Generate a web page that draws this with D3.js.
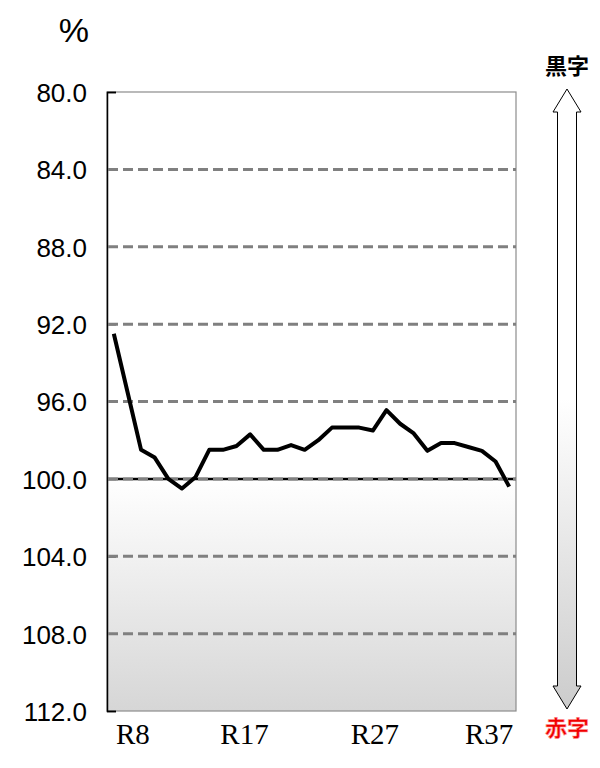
<!DOCTYPE html>
<html>
<head>
<meta charset="utf-8">
<script src="https://cdn.jsdelivr.net/npm/d3@7"></script>
<style>
  body { margin: 0; background: #fff; }
  svg { display: block; }
</style>
</head>
<body>
<div id="chart"></div>
<script>
// categories (Reiwa years) and the balance ratio, %
var categories = ["R8","R9","R10","R11","R12","R13","R14","R15","R16","R17",
                  "R18","R19","R20","R21","R22","R23","R24","R25","R26","R27",
                  "R28","R29","R30","R31","R32","R33","R34","R35","R36","R37"];
var ratio = [92.5, 95.5, 98.5, 98.9, 100.0, 100.5, 99.9, 98.5, 98.5, 98.3,
             97.7, 98.5, 98.5, 98.25, 98.5, 98.0, 97.35, 97.35, 97.35, 97.5,
             96.45, 97.15, 97.65, 98.55, 98.15, 98.15, 98.35, 98.55, 99.1, 100.4];
var yTicks = [80, 84, 88, 92, 96, 100, 104, 108, 112];
var xLabels = ["R8", "R17", "R27", "R37"];
// labels were placed by hand in the original, nudge them a bit
var xLabelNudge = [19, 8, 2, -20];

var W = 600, H = 768;
var plot = { left: 107, right: 516, top: 92, bottom: 711 };

var svg = d3.select("#chart").append("svg")
  .attr("width", W)
  .attr("height", H);

var defs = svg.append("defs");
var bg = defs.append("linearGradient").attr("id", "bg")
  .attr("x1", 0).attr("y1", 0).attr("x2", 0).attr("y2", 1);
bg.append("stop").attr("offset", "0%").attr("stop-color", "#ffffff");
bg.append("stop").attr("offset", "100%").attr("stop-color", "#d6d6d6");

var arrowGrad = defs.append("linearGradient").attr("id", "arrowGrad")
  .attr("x1", 0).attr("y1", 0).attr("x2", 0).attr("y2", 1);
arrowGrad.append("stop").attr("offset", "0%").attr("stop-color", "#ffffff");
arrowGrad.append("stop").attr("offset", "50%").attr("stop-color", "#ffffff");
arrowGrad.append("stop").attr("offset", "100%").attr("stop-color", "#cccccc");

var x = d3.scaleBand()
  .domain(categories)
  .range([plot.left, plot.right]);
var y = d3.scaleLinear()
  .domain([80, 112])
  .range([plot.top, plot.bottom]);

function cx(c) { return x(c) + x.bandwidth() / 2; }

// plot background: white above 100, fading to grey below
svg.append("rect")
  .attr("x", plot.left).attr("y", plot.top)
  .attr("width", plot.right - plot.left)
  .attr("height", plot.bottom - plot.top)
  .attr("fill", "#fff");
svg.append("rect")
  .attr("x", plot.left).attr("y", y(100))
  .attr("width", plot.right - plot.left)
  .attr("height", y(112) - y(100))
  .attr("fill", "url(#bg)");

// frame
svg.append("rect")
  .attr("x", plot.left).attr("y", plot.top)
  .attr("width", plot.right - plot.left)
  .attr("height", plot.bottom - plot.top)
  .attr("fill", "none")
  .attr("stroke", "#8c8c8c")
  .attr("stroke-width", 1.2);

// horizontal axis crosses at 100
svg.append("line")
  .attr("x1", plot.left).attr("x2", plot.right)
  .attr("y1", y(100)).attr("y2", y(100))
  .attr("stroke", "#000")
  .attr("stroke-width", 2.5);

// y axis
var yAxis = d3.axisLeft(y)
  .tickValues(yTicks)
  .tickSize(-9)
  .tickPadding(20)
  .tickFormat(d3.format(".1f"));

var gy = svg.append("g")
  .attr("transform", "translate(" + plot.left + ",0)")
  .call(yAxis);
gy.select(".domain").attr("stroke", "#000").attr("stroke-width", 1.5);
gy.selectAll(".tick line").attr("stroke", "#000").attr("stroke-width", 1.5);
gy.selectAll(".tick text")
  .attr("font-family", "'Liberation Sans', Arial, sans-serif")
  .attr("font-size", 26)
  .attr("fill", "#000")
  .attr("dy", "0.36em");

// dashed gridlines
svg.append("g").selectAll("line")
  .data(yTicks.filter(function(d) { return d > 80 && d < 112; }))
  .enter().append("line")
  .attr("x1", plot.left + 1).attr("x2", plot.right)
  .attr("y1", function(d) { return y(d); })
  .attr("y2", function(d) { return y(d); })
  .attr("stroke", "#808080")
  .attr("stroke-width", 3)
  .attr("stroke-dasharray", "10,5");

// data line
var line = d3.line()
  .x(function(d, i) { return cx(categories[i]); })
  .y(function(d) { return y(d); });

svg.append("path")
  .datum(ratio)
  .attr("d", line)
  .attr("fill", "none")
  .attr("stroke", "#000")
  .attr("stroke-width", 4)
  .attr("stroke-linejoin", "round");

// x labels
svg.append("g").selectAll("text")
  .data(xLabels)
  .enter().append("text")
  .attr("x", function(d, i) { return cx(d) + xLabelNudge[i]; })
  .attr("y", 744)
  .attr("text-anchor", "middle")
  .attr("font-family", "'Liberation Serif', 'Times New Roman', serif")
  .attr("font-size", 29)
  .attr("fill", "#000")
  .text(function(d) { return d; });

// unit
svg.append("text")
  .attr("x", 89).attr("y", 42)
  .attr("text-anchor", "end")
  .attr("font-family", "'Liberation Sans', Arial, sans-serif")
  .attr("font-size", 34)
  .attr("fill", "#000")
  .text("%");

// double-headed arrow on the right: surplus up, deficit down
var ax = 567, shaft = 9.5, head = 14, headLen = 23;
var aTop = y(80) - 3, aBot = y(112) - 2;
var arrowPts = [
  [ax, aTop],
  [ax + head, aTop + headLen],
  [ax + shaft, aTop + headLen],
  [ax + shaft, aBot - headLen],
  [ax + head, aBot - headLen],
  [ax, aBot],
  [ax - head, aBot - headLen],
  [ax - shaft, aBot - headLen],
  [ax - shaft, aTop + headLen],
  [ax - head, aTop + headLen]
];
svg.append("path")
  .attr("d", d3.line()(arrowPts) + "Z")
  .attr("fill", "url(#arrowGrad)")
  .attr("stroke", "#000")
  .attr("stroke-width", 1);

svg.append("text")
  .attr("x", ax).attr("y", 74)
  .attr("text-anchor", "middle")
  .attr("font-family", "'Noto Sans CJK JP', sans-serif")
  .attr("font-weight", "bold")
  .attr("font-size", 22)
  .attr("fill", "#000")
  .text("黒字");

svg.append("text")
  .attr("x", ax).attr("y", 736)
  .attr("text-anchor", "middle")
  .attr("font-family", "'Noto Sans CJK JP', sans-serif")
  .attr("font-weight", "bold")
  .attr("font-size", 22)
  .attr("fill", "#f00000")
  .attr("stroke", "#ff9a9a")
  .attr("stroke-width", 0.6)
  .text("赤字");
</script>
</body>
</html>
